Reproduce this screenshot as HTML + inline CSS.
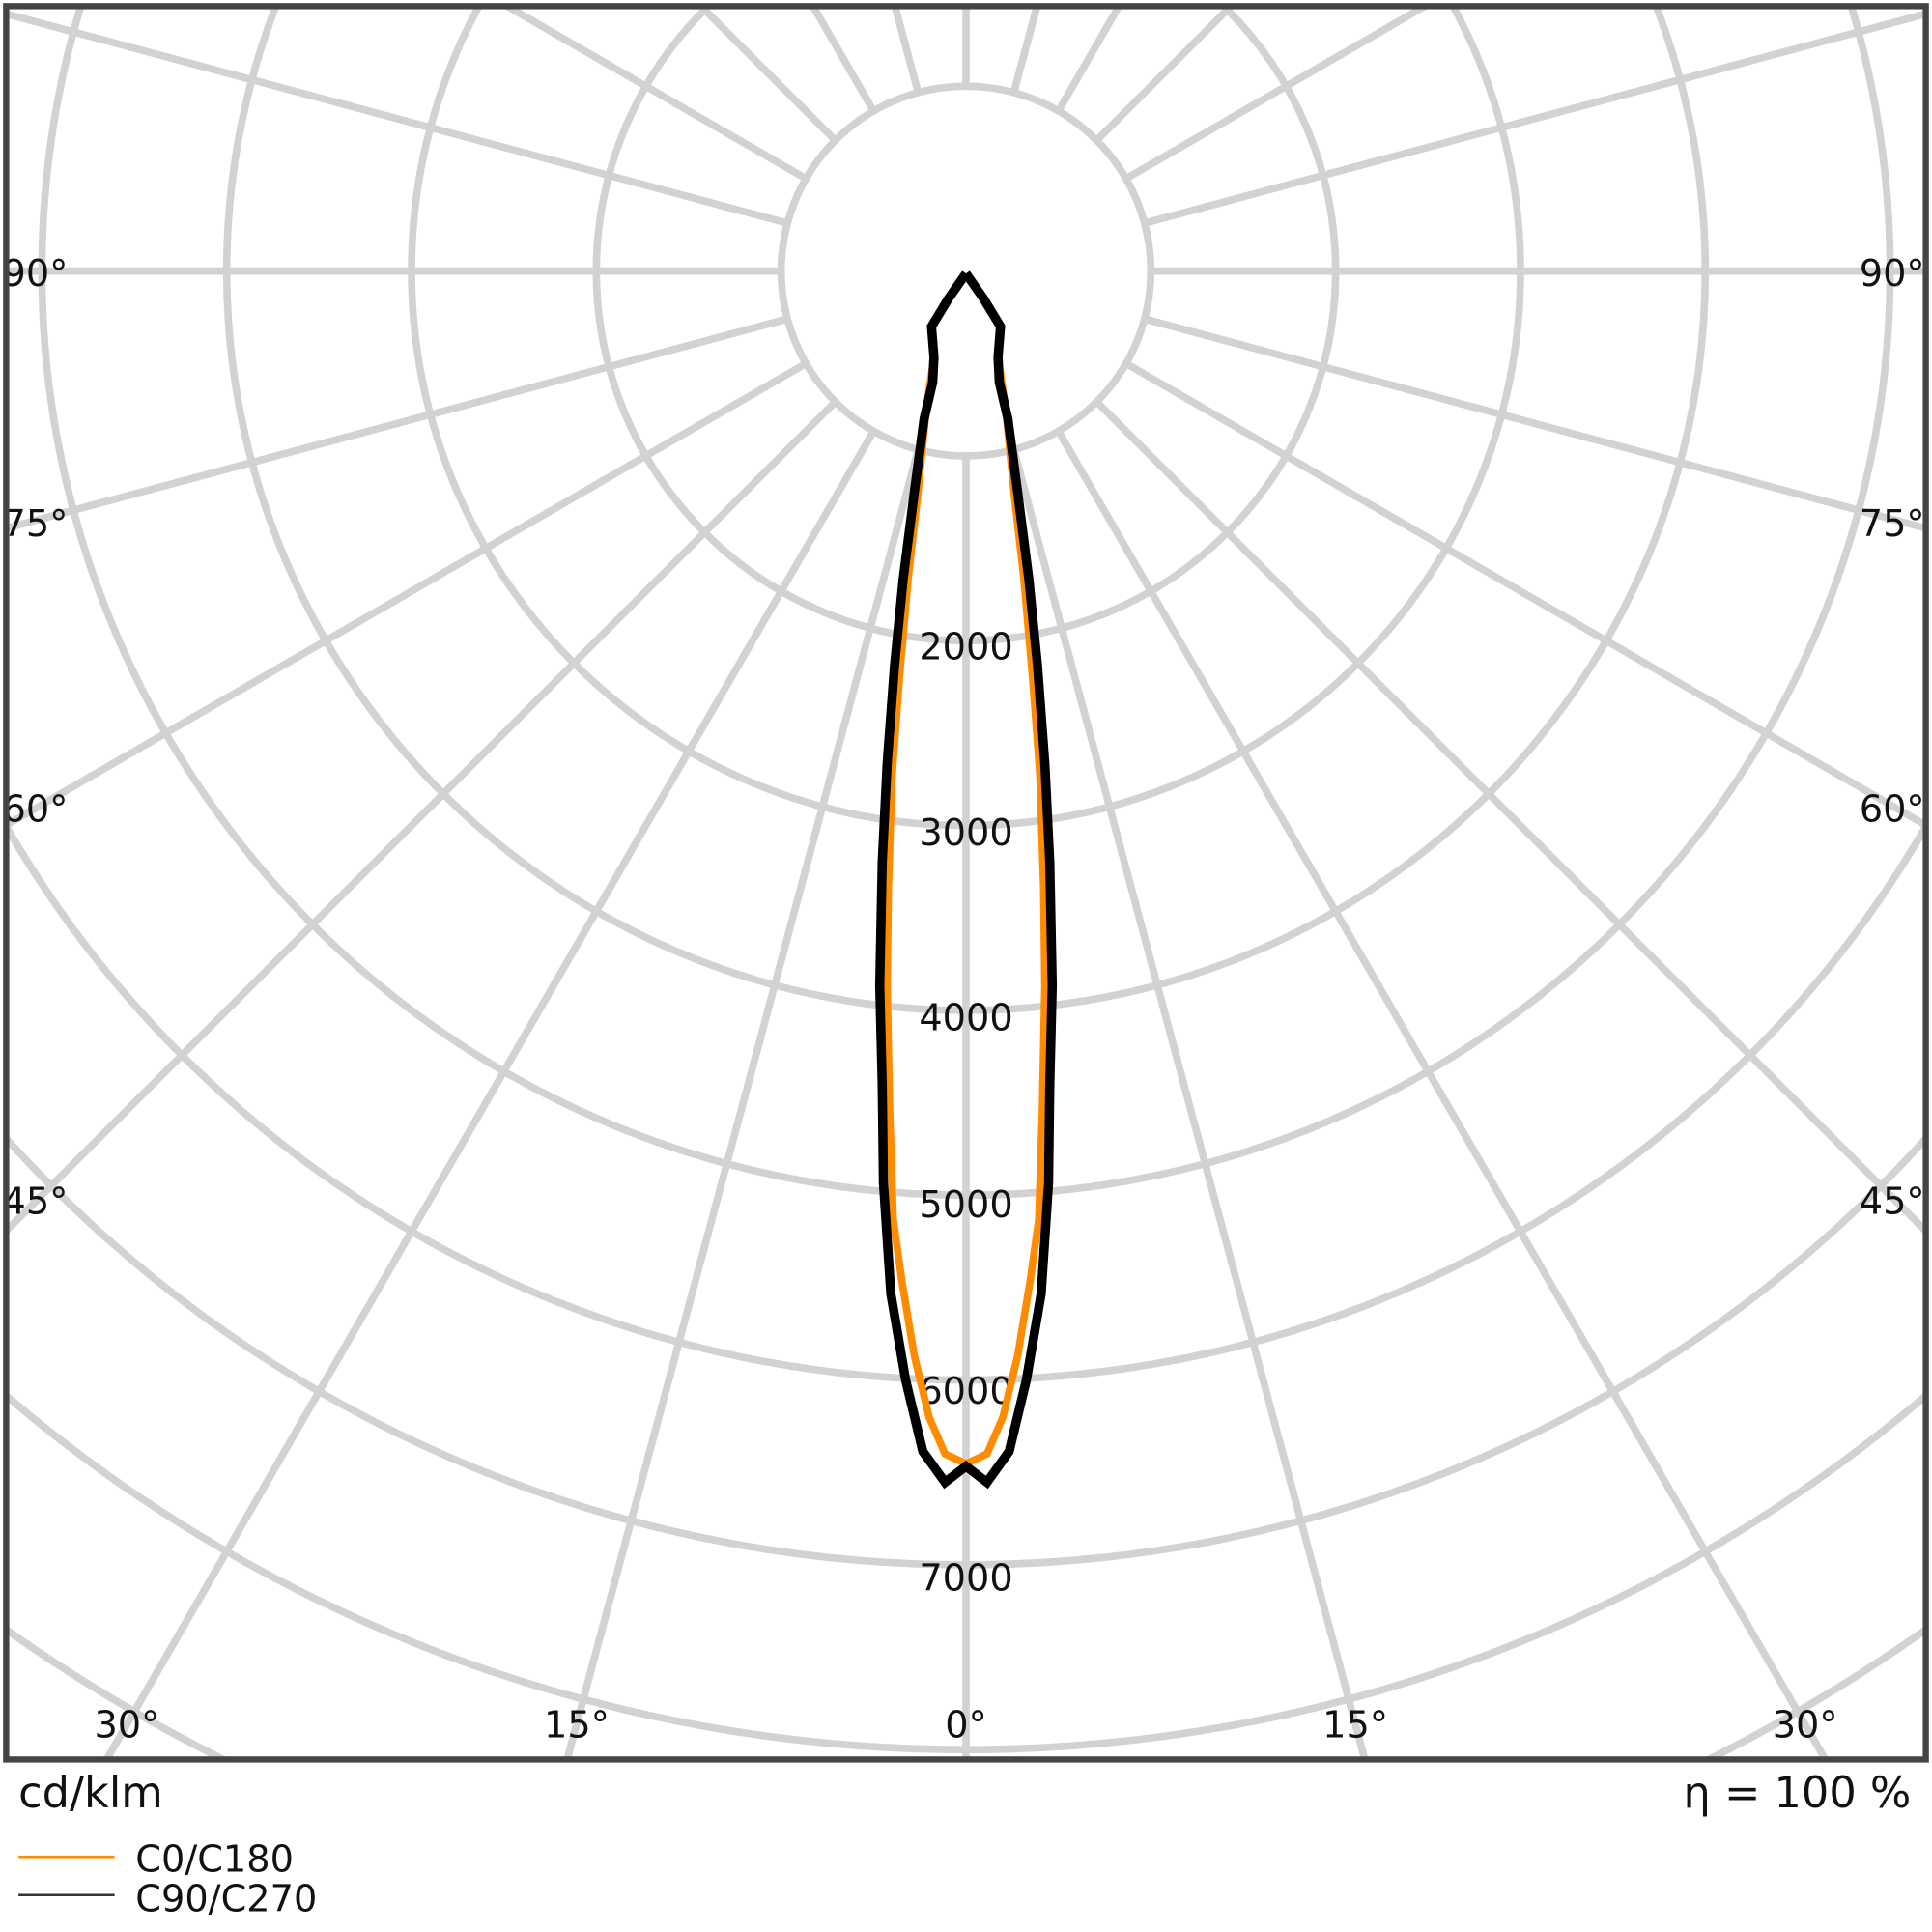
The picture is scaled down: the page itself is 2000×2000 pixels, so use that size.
<!DOCTYPE html>
<html><head><style>html,body{margin:0;padding:0;background:#fff;width:2000px;height:2000px;overflow:hidden}svg{display:block}</style></head>
<body>
<svg width="2000" height="2000" viewBox="0 0 1568 1568" xmlns="http://www.w3.org/2000/svg" font-family="DejaVu Sans, Liberation Sans, sans-serif">
<defs><clipPath id="c"><rect x="5" y="5" width="1558" height="1423"/></clipPath></defs>
<rect width="1568" height="1568" fill="#fff"/>
<g clip-path="url(#c)" stroke="#d2d2d2" stroke-width="6" fill="none">
<circle cx="784" cy="220" r="150"/><circle cx="784" cy="220" r="300"/><circle cx="784" cy="220" r="450"/><circle cx="784" cy="220" r="600"/><circle cx="784" cy="220" r="750"/><circle cx="784" cy="220" r="900"/><circle cx="784" cy="220" r="1050"/><circle cx="784" cy="220" r="1200"/><circle cx="784" cy="220" r="1350"/><circle cx="784" cy="220" r="1500"/><circle cx="784" cy="220" r="1650"/><circle cx="784" cy="220" r="1800"/>
<line x1="784" y1="370" x2="784" y2="2220"/>
<line x1="784" y1="370" x2="784" y2="2220" transform="rotate(15 784 220)"/>
<line x1="784" y1="370" x2="784" y2="2220" transform="rotate(30 784 220)"/>
<line x1="784" y1="370" x2="784" y2="2220" transform="rotate(45 784 220)"/>
<line x1="784" y1="370" x2="784" y2="2220" transform="rotate(60 784 220)"/>
<line x1="784" y1="370" x2="784" y2="2220" transform="rotate(75 784 220)"/>
<line x1="784" y1="370" x2="784" y2="2220" transform="rotate(90 784 220)"/>
<line x1="784" y1="370" x2="784" y2="2220" transform="rotate(105 784 220)"/>
<line x1="784" y1="370" x2="784" y2="2220" transform="rotate(120 784 220)"/>
<line x1="784" y1="370" x2="784" y2="2220" transform="rotate(135 784 220)"/>
<line x1="784" y1="370" x2="784" y2="2220" transform="rotate(150 784 220)"/>
<line x1="784" y1="370" x2="784" y2="2220" transform="rotate(165 784 220)"/>
<line x1="784" y1="370" x2="784" y2="2220" transform="rotate(180 784 220)"/>
<line x1="784" y1="370" x2="784" y2="2220" transform="rotate(195 784 220)"/>
<line x1="784" y1="370" x2="784" y2="2220" transform="rotate(210 784 220)"/>
<line x1="784" y1="370" x2="784" y2="2220" transform="rotate(225 784 220)"/>
<line x1="784" y1="370" x2="784" y2="2220" transform="rotate(240 784 220)"/>
<line x1="784" y1="370" x2="784" y2="2220" transform="rotate(255 784 220)"/>
<line x1="784" y1="370" x2="784" y2="2220" transform="rotate(270 784 220)"/>
<line x1="784" y1="370" x2="784" y2="2220" transform="rotate(285 784 220)"/>
<line x1="784" y1="370" x2="784" y2="2220" transform="rotate(300 784 220)"/>
<line x1="784" y1="370" x2="784" y2="2220" transform="rotate(315 784 220)"/>
<line x1="784" y1="370" x2="784" y2="2220" transform="rotate(330 784 220)"/>
<line x1="784" y1="370" x2="784" y2="2220" transform="rotate(345 784 220)"/>
</g>
<g font-size="30" fill="#111" text-anchor="middle">
<text x="784" y="535">2000</text><text x="784" y="686">3000</text><text x="784" y="836">4000</text><text x="784" y="988">5000</text><text x="784" y="1139">6000</text><text x="784" y="1291">7000</text>
<text x="103" y="1410">30°</text><text x="468" y="1410">15°</text><text x="784" y="1410">0°</text><text x="1100" y="1410">15°</text><text x="1465" y="1410">30°</text>
</g>
<g font-size="30" fill="#111">
<text x="2" y="232">90°</text><text x="2" y="435">75°</text><text x="2" y="667">60°</text><text x="2" y="985">45°</text>
<text x="1509" y="232">90°</text><text x="1509" y="435">75°</text><text x="1509" y="667">60°</text><text x="1509" y="985">45°</text>
</g>
<g clip-path="url(#c)" fill="none" stroke-linejoin="miter">
<polyline stroke="#ff8c00" stroke-width="6" points="784,222 770,242 756,265 758,290 752,330 745,400 737,470 730,550 724,630 721,720 720,800 722,900 725,990 732,1040 742,1100 754,1150 767,1180 784,1188 801,1180 814,1150 826,1100 836,1040 843,990 846,900 848,800 847,720 844,630 838,550 831,470 823,400 816,330 810,290 812,265 798,242 784,222"/>
<polyline stroke="#000" stroke-width="7.5" points="784,222 770,242 756,265 758,290 757,310 750,340 742,400 733,470 726,540 720,620 716,700 714,800 716,880 717,960 723,1050 735,1120 749,1178 767,1203 784,1190 801,1203 819,1178 833,1120 845,1050 851,960 852,880 854,800 852,700 848,620 842,540 835,470 826,400 818,340 811,310 810,290 812,265 798,242 784,222"/>
</g>
<rect x="5" y="5" width="1558" height="1423" fill="none" stroke="#444" stroke-width="5"/>
<g font-size="35" fill="#111">
<text x="15" y="1467">cd/klm</text>
<text x="1551" y="1467" text-anchor="end">η = 100 %</text>
</g>
<line x1="15" y1="1507" x2="93" y2="1507" stroke="#ff8c00" stroke-width="2"/>
<line x1="15" y1="1538" x2="93" y2="1538" stroke="#333" stroke-width="2"/>
<g font-size="30" fill="#111">
<text x="110" y="1519">C0/C180</text>
<text x="110" y="1551">C90/C270</text>
</g>
</svg>
</body></html>
